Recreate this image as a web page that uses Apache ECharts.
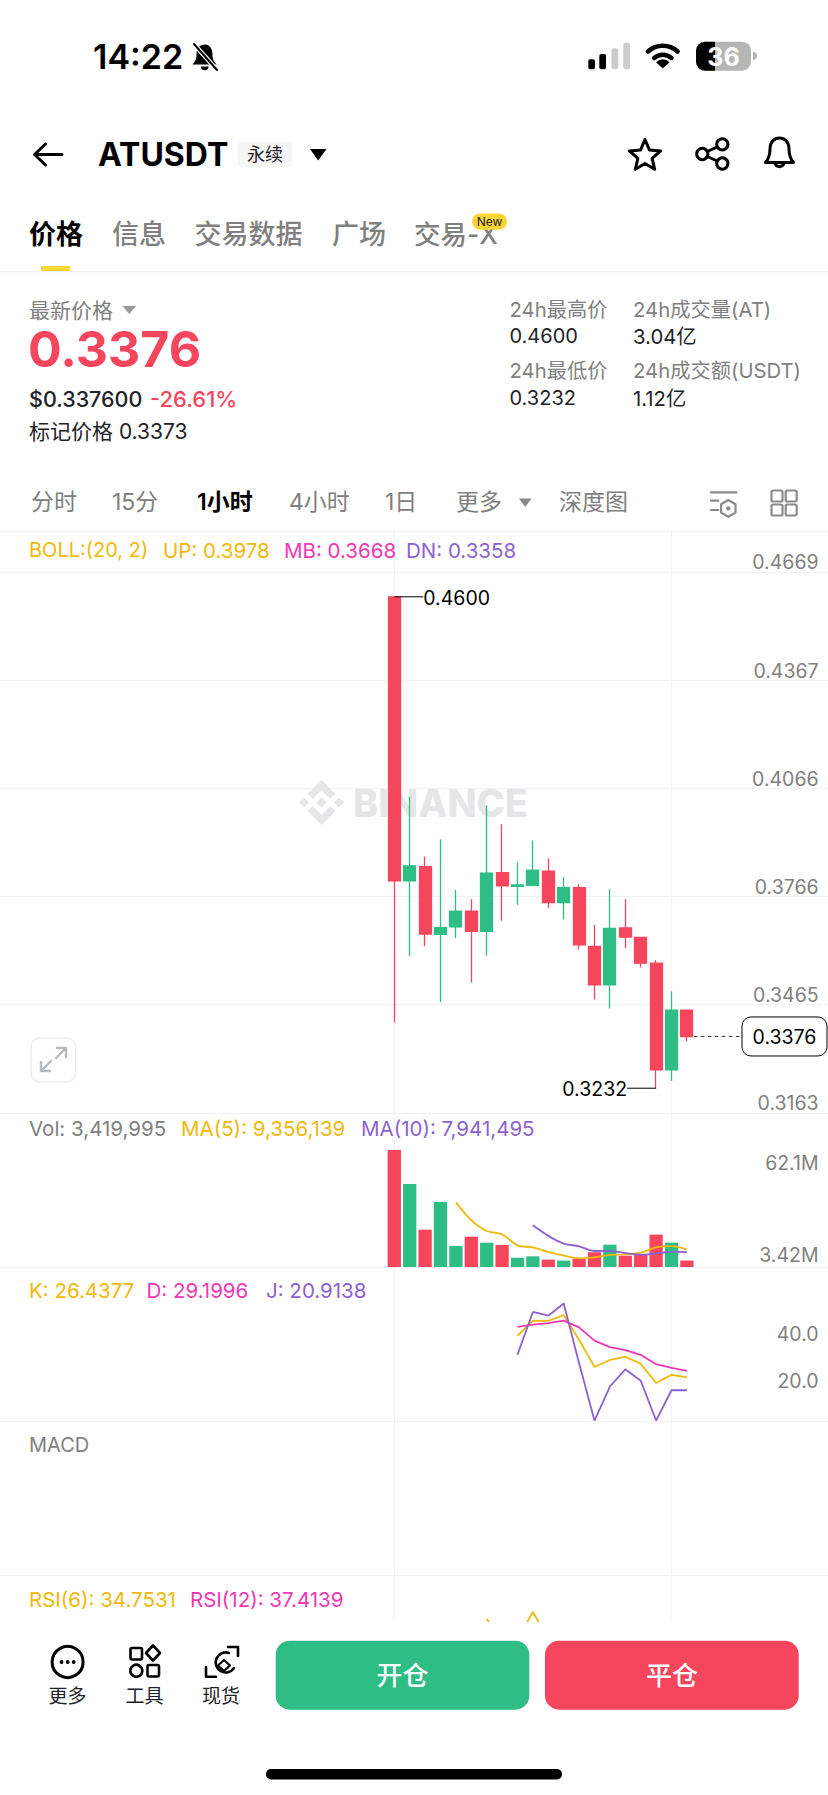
<!DOCTYPE html>
<html>
<head>
<meta charset="utf-8">
<title>ATUSDT</title>
<script src="https://cdn.jsdelivr.net/npm/echarts@6/dist/echarts.min.js"></script>
<style>
html,body{margin:0;padding:0;background:#fff;overflow:hidden}
#main{width:828px;height:1795px}
</style>
</head>
<body>
<div id="main"></div>
<script>
// K线数据
var opens  = [0.4600,0.3809,0.3849,0.3660,0.3681,0.3725,0.3669,0.3832,0.3794,0.3797,0.3836,0.3749,0.3790,0.3627,0.3520,0.3678,0.3652,0.3580,0.3283,0.3449];
var closes = [0.3809,0.3851,0.3661,0.3679,0.3725,0.3669,0.3831,0.3795,0.3798,0.3839,0.3749,0.3790,0.3631,0.3520,0.3677,0.3653,0.3580,0.3283,0.3449,0.3376];
var lows   = [0.3415,0.3600,0.3627,0.3472,0.3650,0.3526,0.3601,0.3698,0.3743,0.3797,0.3734,0.3702,0.3618,0.3479,0.3454,0.3622,0.3568,0.3232,0.3252,0.3362];
var highs  = [0.4600,0.4043,0.3877,0.3925,0.3784,0.3758,0.4020,0.3967,0.3861,0.3922,0.3872,0.3819,0.3800,0.3686,0.3786,0.3758,0.3652,0.3588,0.3502,0.3449];
// 成交量(M)
var volumes = [62.1,44.05,19.8,34.5,11.1,16.1,12.9,11.7,4.95,5.66,3.9,3.4,4.25,7.8,11.85,6.0,6.7,17.2,12.9,3.42];
var volMa5  = [null,null,null,null,34.3,24.8,19.1,17.3,11.5,10.4,8.0,6.0,4.6,5.1,6.4,6.7,7.6,10.4,11.1,9.36];
var volMa10 = [null,null,null,null,null,null,null,null,null,22.1,16.5,12.4,11.0,8.5,8.5,7.4,6.5,7.25,8.0,7.94];
// KDJ,从第9根开始
var kdjK = [null,null,null,null,null,null,null,null,44.2,50.8,50.7,53.2,42.5,30.9,33.9,35.3,32.3,24.0,27.5,26.44];
var kdjD = [null,null,null,null,null,null,null,null,48.1,49.1,49.7,50.8,47.9,42.2,39.4,38.1,36.1,32.1,30.5,29.2];
var kdjJ = [null,null,null,null,null,null,null,null,36.2,54.5,52.9,58.1,32.5,7.9,22.5,29.9,25.0,7.9,20.9,20.9];
// RSI 只露出一点
var rsi6 = [null,null,null,null,null,null,53,42,43,56.5,43,null,null,null,null,null,null,null,null,null];
// 坐标轴刻度
var priceTicks = [0.3163,0.3465,0.3766,0.4066,0.4367,0.4669];
var volTicks = [3.42,62.1];
var kdjTicks = [20,40];
// 标注 [序号, 价格]
var highMark = [26,0.4600];
var lowMark  = [43,0.3232];
var lastMark = [45,0.3376];

var padFront = 26, padBack = 10, step = 15.4;
var total = padFront + opens.length + padBack;
var gridW = total * step;
var gridL = 394.3 - (padFront + 0.5) * step;
var dates = [];
for(var i=0;i<total;i++){ dates.push(String(i)); }

var FONT = 'Inter, "Noto Sans CJK SC", sans-serif';
var GRAY = '#808080', INK = '#1E2329', LINE = '#F1F2F3';
var GREEN = '#2EBD85', RED = '#F6465D', YELLOW = '#F0B90B', PINK = '#F037B5', PURPLE = '#8C62D0';

function pad(arr){
	var out = [];
	for(var i=0;i<padFront;i++){ out.push('-'); }
	for(var j=0;j<arr.length;j++){ out.push(arr[j]==null ? '-' : arr[j]); }
	for(var k=0;k<padBack;k++){ out.push('-'); }
	return out;
}

/**
*文字
*/
function txt(x,y,text,size,color,weight,align){
	return {
		type:'text', silent:true,
		style:{
			x:x, y:y, text:text, fill:color||INK,
			fontSize:size, fontWeight:weight||400, fontFamily:FONT,
			align:align||'left', textAlign:align||'left',
			verticalAlign:'middle', textVerticalAlign:'middle'
		}
	};
}
function stroke(d,color,w){
	return {type:'path', silent:true, shape:{pathData:d},
		style:{fill:'none', stroke:color||'#000', lineWidth:w||3, lineCap:'round', lineJoin:'round'}};
}
function fill(d,color){
	return {type:'path', silent:true, shape:{pathData:d}, style:{fill:color||'#000'}};
}
function box(x,y,w,h,r,color,line,lw){
	return {type:'rect', silent:true, shape:{x:x,y:y,width:w,height:h,r:r},
		style:{fill:color||'none', stroke:line||'none', lineWidth:lw||0}};
}
function ring(cx,cy,r,color,w){
	return {type:'circle', silent:true, shape:{cx:cx,cy:cy,r:r},
		style:{fill:'none', stroke:color||'#000', lineWidth:w||3}};
}
function dot(cx,cy,r,color){
	return {type:'circle', silent:true, shape:{cx:cx,cy:cy,r:r}, style:{fill:color||'#000'}};
}

var BN_LOGO = 'M38.73 53.2l24.59-24.58 24.6 24.6 14.3-14.31L63.32 0 24.42 38.9l14.31 14.3zM0 63.31l14.3-14.31 14.31 14.31-14.31 14.3zM38.73 73.41l24.59 24.59 24.6-24.6 14.31 14.29-38.9 38.91-38.91-38.88-.02-.02 14.32-14.29zM97.99 63.31l14.3-14.31 14.32 14.31-14.31 14.3zM77.83 63.3L63.32 48.78 52.59 59.51l-1.24 1.23-2.54 2.54 14.51 14.5 14.51-14.47z';

// 水印,压在K线下面
var watermark = [
	{type:'path', silent:true, shape:{pathData:BN_LOGO, layout:'cover', x:299, y:780, width:45, height:45}, style:{fill:'#E4E6E7'}},
	txt(353,803,'BINANCE',38,'#E4E6E7',800)
];

var chrome = [
	// 状态栏
	txt(93,56,'14:22',34,'#000',600),
	fill('M205 44.5C199 44.5 196.5 49 196.5 55C196.5 60 194.5 62 192.5 64.5H216.5C214.5 62 212.5 60 212.5 55C212.5 49 210 44.5 205 44.5ZM201 66.5A3.7 3.7 0 0 0 208.5 66.5Z','#000'),
	stroke('M193 43L218 71','#fff',4.5),
	stroke('M194 44L217 70','#000',2),
	box(588.3,59.3,6.7,10,2,'#000'),
	box(599.3,54,6.7,15.3,2,'#000'),
	box(611.5,48.3,6.7,21,2,'#CCCCCC'),
	box(623.3,42.7,6.7,26.6,2,'#CCCCCC'),
	stroke('M648 51.5A22 22 0 0 1 677.6 51.5','#000',4.6),
	stroke('M654.2 58A13 13 0 0 1 671.4 58','#000',4.4),
	fill('M662.8 68.6L656 62.2A9.5 9.5 0 0 1 669.6 62.2Z','#000'),
	box(696,41.7,55,29,9,'#B5B5B5'),
	fill('M715 41.7H705A9 9 0 0 0 696 50.7V61.7A9 9 0 0 0 705 70.7H715Z','#000'),
	fill('M753 51.7A4 4 0 0 1 753 60Z','#B5B5B5'),
	txt(723.5,56.5,'36',25,'#fff',700,'center'),
	// 标题栏
	stroke('M62 154.5H35M45.5 144L34.5 154.5L45.5 165','#000',3),
	txt(98,154,'ATUSDT',32,'#000',700),
	box(238,142,54,25,4,'#F5F5F5'),
	txt(265,154.5,'永续',18,INK,400,'center'),
	fill('M310 149H326.5L318.2 160.5Z','#000'),
	stroke('M645 139.5L649.4 149.9L660.7 150.9L652.1 158.3L654.7 169.3L645 163.5L635.3 169.3L637.9 158.3L629.3 150.9L640.6 149.9Z','#000',3),
	ring(702.3,154,5.6,'#000',3),
	ring(722.3,144.3,5.6,'#000',3),
	ring(722.3,163.5,5.6,'#000',3),
	stroke('M707.3 151.5L717.3 146.8M707.3 156.5L717.3 161','#000',3),
	stroke('M765.5 162.5C769.5 158 770 153 770 149C770 141.5 774.5 138 779.5 138C784.5 138 789 141.5 789 149C789 153 789.5 158 793.5 162.5ZM775 163.5A4.8 4.8 0 0 0 784 163.5','#000',3),
	// 标签页
	txt(29,234,'价格',27,'#000',600),
	txt(112,234,'信息',27,GRAY,500),
	txt(194.5,234,'交易数据',27,GRAY,500),
	txt(332,234,'广场',27,GRAY,500),
	txt(414,234,'交易-X',26.5,GRAY,500),
	box(472,213.5,35,16.2,8,'#FCD535'),
	txt(489.5,221.6,'New',12,INK,400,'center'),
	box(41,266,29,5,0,'#FCD535'),
	box(0,271,828,1.2,0,LINE),
	// 行情
	txt(29,310,'最新价格',21,GRAY),
	fill('M122.5 306H136L129.2 314Z','#9A9A9A'),
	txt(28,349,'0.3376',50,RED,700),
	txt(29,399,'$0.337600',21.5,INK,500),
	txt(150,399,'-26.61%',22,RED,500),
	txt(29,431.5,'标记价格 0.3373',21,INK),
	txt(509.5,309,'24h最高价',20.3,GRAY),
	txt(633,309,'24h成交量(AT)',20.3,GRAY),
	txt(509.5,336,'0.4600',20,INK),
	txt(633,336,'3.04亿',20.3,INK),
	txt(509.5,370.5,'24h最低价',20.3,GRAY),
	txt(633,370.5,'24h成交额(USDT)',20.3,GRAY),
	txt(509.5,398,'0.3232',20,INK),
	txt(633,398,'1.12亿',20.3,INK),
	// 周期
	txt(31,502,'分时',23,GRAY),
	txt(112,502,'15分',23,GRAY),
	txt(197,502,'1小时',23,'#000',600),
	txt(289,502,'4小时',23,GRAY),
	txt(385,502,'1日',23,GRAY),
	txt(456,502,'更多',23,GRAY),
	fill('M519 498.6H531.5L525.2 507Z','#8A8A8A'),
	txt(559,502,'深度图',23,GRAY),
	stroke('M711 492.3H736.5M711 500.7H718.3M711 510H718.3','#8A8A8A',2.2),
	stroke('M728.3 500L735.5 504.2V512.6L728.3 516.8L721.1 512.6V504.2Z','#8A8A8A',2.2),
	dot(728.3,508.4,2.2,'#8A8A8A'),
	box(771.5,490.5,11,11,1.5,'none','#8A8A8A',2.2),
	box(785.7,490.5,11,11,1.5,'none','#8A8A8A',2.2),
	box(771.5,504.5,11,11,1.5,'none','#8A8A8A',2.2),
	box(785.7,504.5,11,11,1.5,'none','#8A8A8A',2.2),
	box(0,531,828,1.2,0,LINE),
	// 指标图例
	txt(29,550,'BOLL:(20, 2)',20,YELLOW),
	txt(163,550,'UP: 0.3978',20.5,YELLOW),
	txt(284,550,'MB: 0.3668',20.5,PINK),
	txt(406,550,'DN: 0.3358',20.5,PURPLE),
	txt(29,1128,'Vol: 3,419,995',20.5,GRAY),
	txt(181,1128,'MA(5): 9,356,139',20.5,YELLOW),
	txt(361,1128,'MA(10): 7,941,495',20.5,PURPLE),
	txt(29,1290.5,'K: 26.4377',20.5,YELLOW),
	txt(146.5,1290.5,'D: 29.1996',20.5,PINK),
	txt(266,1290.5,'J: 20.9138',20.5,PURPLE),
	txt(29,1445,'MACD',20,GRAY),
	txt(29,1599,'RSI(6): 34.7531',20.5,YELLOW),
	txt(190,1599,'RSI(12): 37.4139',20.5,PINK),
	// 全屏按钮
	box(31,1038,44.5,44,9,'#fff','#ECEDEE',1.5),
	stroke('M66 1048L56 1058M57 1048H66V1057M41 1071L51 1061M41 1062V1071H50','#B7BBC0',2.4),
	// 底部
	ring(67.6,1662,15.5,'#000',3),
	dot(61.5,1662,1.9,'#000'), dot(67.6,1662,1.9,'#000'), dot(73.7,1662,1.9,'#000'),
	txt(67.5,1696,'更多',19,INK,400,'center'),
	box(130.5,1648,11.5,11.5,1.5,'none','#000',2.6),
	stroke('M153 1645.5L160 1653L153 1660.5L146 1653Z','#000',2.6),
	ring(136.3,1670.7,6,'#000',2.6),
	box(147.5,1665,11.5,11.5,1.5,'none','#000',2.6),
	txt(144.5,1696,'工具',19,INK,400,'center'),
	stroke('M228 1647H238V1656M206 1667V1676.7H216','#000',2.6),
	stroke('M229 1653A10 10 0 1 0 234 1668','#000',2.6),
	stroke('M218 1665.5L224 1660L230 1665.5L224 1671Z','#000',2.2),
	txt(221,1696,'现货',19,INK,400,'center'),
	box(275.7,1640.7,253.6,69,14,GREEN),
	txt(402.5,1675,'开仓',26,'#fff',500,'center'),
	box(545,1640.7,253.7,69,14,'#F6465D'),
	txt(672,1675,'平仓',26,'#fff',500,'center'),
	box(266,1769,296,10.5,5,'#000')
];

function staticSeries(items,z){
	return {
		type:'custom', coordinateSystem:'none', z:z, silent:true, clip:false, data:[0],
		renderItem:function(){ return {type:'group',children:items}; }
	};
}

// 最高、最低、最新价标注
var markData = [highMark,lowMark,lastMark];
function renderMark(params,api){
	var pt = api.coord([api.value(0),api.value(1)]);
	var label = api.value(1).toFixed(4);
	var children = [];
	function text(x,y,align){
		children.push(txt(x,y,label,19.5,'#000',400,align));
	}
	if(params.dataIndex === 0){
		children.push({type:'line',shape:{x1:pt[0],y1:pt[1],x2:pt[0]+29,y2:pt[1]},style:{stroke:'#000',lineWidth:1}});
		text(pt[0]+29,pt[1]+1,'left');
	}else if(params.dataIndex === 1){
		children.push({type:'line',shape:{x1:pt[0],y1:pt[1],x2:pt[0]-29,y2:pt[1]},style:{stroke:'#000',lineWidth:1}});
		text(pt[0]-29,pt[1]+1,'right');
	}else{
		children.push({type:'line',shape:{x1:pt[0]+7,y1:pt[1],x2:742,y2:pt[1]},style:{stroke:'#333',lineWidth:1,lineDash:[3.5,3.5]}});
		children.push({type:'rect',shape:{x:742,y:pt[1]-19.5,width:85,height:39,r:9},style:{fill:'#fff',stroke:'#000',lineWidth:1}});
		text(784.5,pt[1]+1,'center');
	}
	return {type:'group',children:children};
}

function xAxisFor(index,showLine){
	return {
		type:'category', gridIndex:index, data:dates, boundaryGap:true,
		axisLine:{show:showLine,lineStyle:{color:LINE,width:1.2}},
		axisTick:{show:false}, axisLabel:{show:false}, splitLine:{show:false}
	};
}
var tickFont = {color:GRAY,fontSize:19.5,fontFamily:FONT,inside:true,margin:30,showMinLabel:true,showMaxLabel:true};

function lineOf(idx,arr,color,smooth){
	return {
		type:'line', xAxisIndex:idx, yAxisIndex:idx, symbol:'none', smooth:smooth, z:4,
		connectNulls:false, lineStyle:{color:color,width:1.8}, data:pad(arr)
	};
}
function gridOf(l,w,t,h){
	return {left:l,width:w,top:t,height:h,outerBoundsMode:'none'};
}

var option = {
	animation:false,
	backgroundColor:'#fff',
	grid:[
		gridOf(gridL+step/2,gridW-step,531,1090),	// 竖向网格
		gridOf(gridL,gridW,572,541),
		gridOf(gridL,gridW,1113,154),
		gridOf(gridL,gridW,1267,154.7),
		gridOf(gridL,gridW,1421.7,153.6),
		gridOf(gridL,gridW,1575.3,45.7)
	],
	xAxis:[
		{
			type:'category', gridIndex:0, data:dates, boundaryGap:false,
			axisLine:{show:false}, axisTick:{show:false}, axisLabel:{show:false},
			splitLine:{show:true,interval:function(i){return i===26||i===44;},lineStyle:{color:LINE,width:1.2}}
		},
		xAxisFor(1,true),
		xAxisFor(2,true),
		xAxisFor(3,true),
		xAxisFor(4,true),
		xAxisFor(5,false)
	],
	yAxis:[
		{type:'value',gridIndex:0,min:0,max:1,show:false},
		{
			type:'value',gridIndex:1,position:'right',min:0.3163,max:0.4669,
			axisLine:{show:false},axisTick:{show:false,customValues:priceTicks},
			axisLabel:echarts.util.extend({customValues:priceTicks,verticalAlign:'bottom',
				formatter:function(v){return v.toFixed(4);}},tickFont),
			splitLine:{show:true,lineStyle:{color:LINE,width:1.2}}
		},
		{
			type:'value',gridIndex:2,position:'right',min:0,max:81.7,
			axisLine:{show:false},axisTick:{show:false,customValues:volTicks},splitLine:{show:false},
			axisLabel:echarts.util.extend({customValues:volTicks,verticalAlign:'middle',
				formatter:function(v){return (v>10?'{hi|':'{lo|')+v+'M}';},
				rich:{
					hi:{color:GRAY,fontSize:19.5,fontFamily:FONT,padding:[26,0,0,0]},
					lo:{color:GRAY,fontSize:19.5,fontFamily:FONT,padding:[0,0,11,0]}
				}},tickFont)
		},
		{
			type:'value',gridIndex:3,position:'right',min:7.4,max:73.8,
			axisLine:{show:false},axisTick:{show:false,customValues:kdjTicks},splitLine:{show:false},
			axisLabel:echarts.util.extend({customValues:kdjTicks,verticalAlign:'bottom',padding:[0,0,2,0],
				formatter:function(v){return v.toFixed(1);}},tickFont)
		},
		{type:'value',gridIndex:4,min:0,max:1,show:false},
		{type:'value',gridIndex:5,min:52,max:75,show:false}
	],
	series:[
		staticSeries(watermark,0),
		{
			type:'candlestick', xAxisIndex:1, yAxisIndex:1, barWidth:12.4, z:3,
			itemStyle:{color:GREEN,color0:RED,borderColor:GREEN,borderColor0:RED,borderWidth:1.3},
			data:(function(){
				var rows = [];
				for(var i=0;i<total;i++){
					var j = i-padFront;
					rows.push(j>=0 && j<opens.length ? [opens[j],closes[j],lows[j],highs[j]] : '-');
				}
				return rows;
			})()
		},
		{
			type:'custom', xAxisIndex:1, yAxisIndex:1, z:5, silent:true, clip:false,
			encode:{x:0,y:1}, renderItem:renderMark, data:markData
		},
		{
			type:'bar', xAxisIndex:2, yAxisIndex:2, barWidth:13.3, z:2,
			itemStyle:{color:function(p){
				var j = p.dataIndex-padFront;
				return closes[j]>=opens[j] ? GREEN : RED;
			}},
			data:pad(volumes)
		},
		lineOf(2,volMa5,YELLOW,0.3),
		lineOf(2,volMa10,PURPLE,0.3),
		lineOf(3,kdjK,YELLOW,0),
		lineOf(3,kdjD,PINK,0),
		lineOf(3,kdjJ,PURPLE,0),
		lineOf(5,rsi6,YELLOW,0),
		staticSeries(chrome,10)
	]
};

var myChart = echarts.init(document.getElementById('main'),null,{renderer:'svg'});
myChart.setOption(option,true);
</script>
</body>
</html>
